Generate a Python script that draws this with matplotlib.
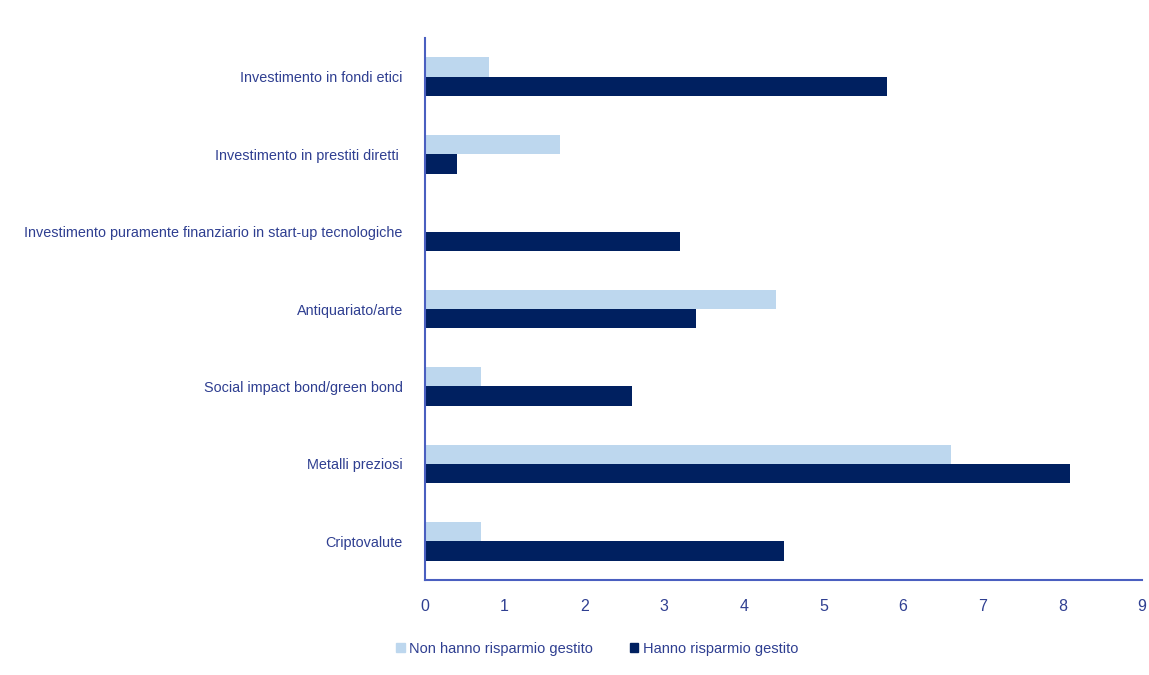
import matplotlib
matplotlib.use("Agg")
import matplotlib.pyplot as plt
from matplotlib.patches import Patch
import numpy as np
from matplotlib import font_manager

categories = [
    "Investimento in fondi etici",
    "Investimento in prestiti diretti ",
    "Investimento puramente finanziario in start-up tecnologiche",
    "Antiquariato/arte",
    "Social impact bond/green bond",
    "Metalli preziosi",
    "Criptovalute",
]
non_gestito = [0.8, 1.7, 0.0, 4.4, 0.7, 6.6, 0.7]
gestito = [5.8, 0.4, 3.2, 3.4, 2.6, 8.1, 4.5]
series_names = ["Non hanno risparmio gestito", "Hanno risparmio gestito"]
xticks = list(range(0, 10))

names = {f.name for f in font_manager.fontManager.ttflist}
fam = ["Liberation Sans Narrow", "Liberation Sans", "DejaVu Sans"]
fam = [f for f in fam if f in names] + ["DejaVu Sans"]
plt.rcParams['font.family'] = fam

light = "#bdd7ee"
dark = "#002060"
txt = "#2f3f91"
axc = "#4a5fc0"

fig = plt.figure(figsize=(11.49, 6.75), dpi=100)
ax = fig.add_axes([425/1149, 1 - 580/675, (1142-425)/1149, (580-38)/675])

y = np.arange(len(categories))
h = 0.25
ax.barh(y - h/2, non_gestito, height=h, color=light, label=series_names[0])
ax.barh(y + h/2, gestito, height=h, color=dark, label=series_names[1])

ax.set_ylim(len(categories) - 0.5, -0.5)
ax.set_xlim(0, 9)
ax.set_yticks(y)
ax.set_yticklabels(categories, fontsize=10.4, color=txt)
ax.set_xticks(xticks)
ax.set_xticklabels([str(t) for t in xticks], fontsize=11.5, color=txt)
ax.tick_params(axis='both', length=0)
ax.tick_params(axis='y', pad=16)
ax.tick_params(axis='x', pad=14)
for s in ["top", "right"]:
    ax.spines[s].set_visible(False)
for s in ["left", "bottom"]:
    ax.spines[s].set_color(axc)
    ax.spines[s].set_linewidth(1.5)

handles = [Patch(color=light), Patch(color=dark)]
fig.legend(handles, series_names, loc="center left", bbox_to_anchor=(383/1149, 1 - 649/675),
           ncol=2, frameon=False, fontsize=10.5, labelcolor=txt,
           handlelength=0.6, handleheight=0.6, handletextpad=0.3, columnspacing=2.5)

fig.savefig("out.png", dpi=100)
